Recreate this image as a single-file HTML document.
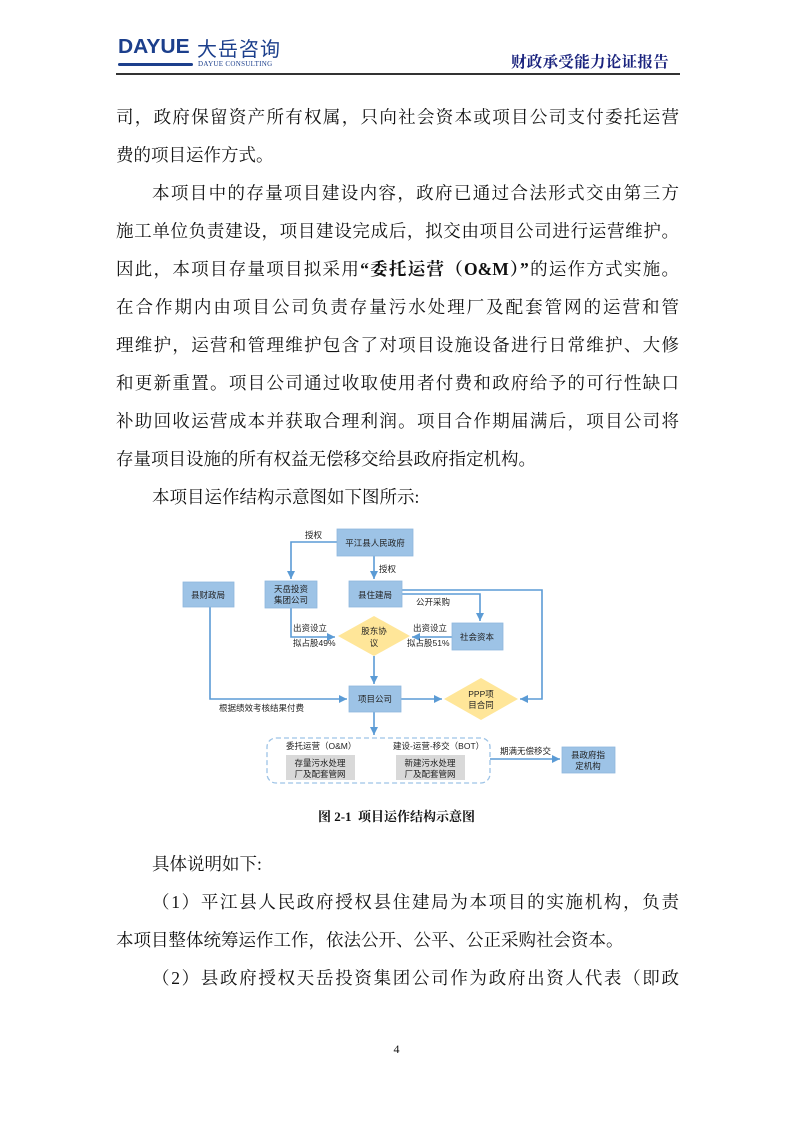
<!DOCTYPE html>
<html><head><meta charset="utf-8"><style>
body{margin:0;background:#fff;}
#p{position:relative;width:793px;height:1122px;overflow:hidden;font-family:"Liberation Serif","Noto Serif CJK SC",serif;color:#111;}
.l{position:absolute;left:116px;width:563px;height:38px;line-height:38px;font-size:17.5px;white-space:nowrap;}
.j{text-align:justify;text-align-last:justify;}
.ind{left:152px;width:527px;}
svg text{font-family:"Liberation Sans","Noto Sans CJK SC",sans-serif;font-size:8.5px;fill:#222;}
</style></head><body><div id="p">
<!-- header -->
<div style="position:absolute;left:118px;top:36px;font-family:'Liberation Sans',sans-serif;font-weight:bold;font-size:20px;color:#1c3f8c;transform:scaleX(1.05);transform-origin:left;">DAYUE</div>
<div style="position:absolute;left:197px;top:33px;font-family:'Noto Sans CJK SC',sans-serif;font-size:20px;color:#1c3f8c;letter-spacing:1px;">大岳咨询</div>
<div style="position:absolute;left:118px;top:63px;width:75px;height:3px;background:#1c3f8c;border-radius:2px;"></div>
<div style="position:absolute;left:198px;top:60px;font-family:'Liberation Serif',serif;font-size:7px;color:#1c3f8c;letter-spacing:0.3px;">DAYUE CONSULTING</div>
<div style="position:absolute;left:511px;top:50px;font-family:'Noto Serif CJK SC',serif;font-size:15.5px;font-weight:bold;color:#1a237e;letter-spacing:0.3px;">财政承受能力论证报告</div>
<div style="position:absolute;left:116px;top:73px;width:564px;height:1.5px;background:#333;"></div>

<div class="l j" style="top:98px">司，政府保留资产所有权属，只向社会资本或项目公司支付委托运营</div>
<div class="l" style="top:136px">费的项目运作方式。</div>
<div class="l j ind" style="top:174px">本项目中的存量项目建设内容，政府已通过合法形式交由第三方</div>
<div class="l j" style="top:212px">施工单位负责建设，项目建设完成后，拟交由项目公司进行运营维护。</div>
<div class="l j" style="top:250px">因此，本项目存量项目拟采用<b>“委托运营（O&amp;M）”</b>的运作方式实施。</div>
<div class="l j" style="top:288px">在合作期内由项目公司负责存量污水处理厂及配套管网的运营和管</div>
<div class="l j" style="top:326px">理维护，运营和管理维护包含了对项目设施设备进行日常维护、大修</div>
<div class="l j" style="top:364px">和更新重置。项目公司通过收取使用者付费和政府给予的可行性缺口</div>
<div class="l j" style="top:402px">补助回收运营成本并获取合理利润。项目合作期届满后，项目公司将</div>
<div class="l" style="top:440px">存量项目设施的所有权益无偿移交给县政府指定机构。</div>
<div class="l ind" style="top:478px">本项目运作结构示意图如下图所示:</div>

<svg style="position:absolute;left:0;top:0" width="793" height="1122">
<defs><marker id="a" markerWidth="6" markerHeight="6" refX="5" refY="3" orient="auto"><path d="M0,0.5 L5,3 L0,5.5 z" fill="#5b9bd5"/></marker></defs>
<g stroke="#5b9bd5" stroke-width="1.6" fill="none">
<polyline points="337,542 291,542 291,579" marker-end="url(#a)"/>
<line x1="374" y1="556" x2="374" y2="579" marker-end="url(#a)"/>
<polyline points="402,590 542,590 542,699 520,699" marker-end="url(#a)"/>
<polyline points="402,594 480,594 480,621" marker-end="url(#a)"/>
<polyline points="291,608 291,637 335,637" marker-end="url(#a)"/>
<line x1="452" y1="637" x2="412" y2="637" marker-end="url(#a)"/>
<line x1="374" y1="656" x2="374" y2="684" marker-end="url(#a)"/>
<polyline points="210,607 210,699 347,699" marker-end="url(#a)"/>
<line x1="401" y1="699" x2="442" y2="699" marker-end="url(#a)"/>
<line x1="374" y1="712" x2="374" y2="735" marker-end="url(#a)"/>
<line x1="490" y1="759" x2="560" y2="759" marker-end="url(#a)"/>
</g>
<rect x="267" y="738" width="223" height="45" rx="9" fill="none" stroke="#9dc3e6" stroke-width="1.3" stroke-dasharray="5,3"/>
<g fill="#9dc3e6" stroke="#8fb8de" stroke-width="0.8">
<rect x="337" y="529" width="76" height="27"/>
<rect x="183" y="582" width="51" height="25"/>
<rect x="265" y="581" width="52" height="27"/>
<rect x="349" y="581" width="53" height="26"/>
<rect x="452" y="623" width="51" height="27"/>
<rect x="349" y="686" width="52" height="26"/>
<rect x="562" y="747" width="53" height="26"/>
</g>
<polygon points="374,616 410,636 374,656 338,636" fill="#ffe699"/>
<polygon points="481,678 518,699 481,720 444,699" fill="#ffe699"/>
<rect x="286" y="755" width="69" height="25" fill="#d9d9d9"/>
<rect x="396" y="755" width="69" height="25" fill="#d9d9d9"/>
<text x="375" y="546" text-anchor="middle" font-size="9">平江县人民政府</text>
<text x="208" y="598" text-anchor="middle">县财政局</text>
<text x="291" y="592" text-anchor="middle">天岳投资</text>
<text x="291" y="603" text-anchor="middle">集团公司</text>
<text x="375" y="598" text-anchor="middle">县住建局</text>
<text x="477" y="640" text-anchor="middle">社会资本</text>
<text x="374" y="634" text-anchor="middle">股东协</text>
<text x="374" y="646" text-anchor="middle">议</text>
<text x="375" y="702" text-anchor="middle">项目公司</text>
<text x="481" y="697" text-anchor="middle">PPP项</text>
<text x="481" y="708" text-anchor="middle">目合同</text>
<text x="588" y="758" text-anchor="middle">县政府指</text>
<text x="588" y="769" text-anchor="middle">定机构</text>
<text x="305" y="538">授权</text>
<text x="379" y="572">授权</text>
<text x="416" y="605">公开采购</text>
<text x="293" y="631">出资设立</text>
<text x="293" y="646">拟占股49%</text>
<text x="413" y="631">出资设立</text>
<text x="407" y="646">拟占股51%</text>
<text x="219" y="711">根据绩效考核结果付费</text>
<text x="286" y="749" font-size="7.5">委托运营（O&amp;M）</text>
<text x="393" y="749" font-size="7.5">建设-运营-移交（BOT）</text>
<text x="320" y="766" text-anchor="middle">存量污水处理</text>
<text x="320" y="777" text-anchor="middle">厂及配套管网</text>
<text x="430" y="766" text-anchor="middle">新建污水处理</text>
<text x="430" y="777" text-anchor="middle">厂及配套管网</text>
<text x="500" y="754">期满无偿移交</text>
</svg>

<div style="position:absolute;left:0;width:793px;top:806px;text-align:center;font-size:13px;font-weight:bold;font-family:'Liberation Serif','Noto Serif CJK SC',serif;">图 2-1&nbsp; 项目运作结构示意图</div>

<div class="l ind" style="top:845px">具体说明如下:</div>
<div class="l j ind" style="top:883px">（1）平江县人民政府授权县住建局为本项目的实施机构，负责</div>
<div class="l" style="top:921px">本项目整体统筹运作工作，依法公开、公平、公正采购社会资本。</div>
<div class="l j ind" style="top:959px">（2）县政府授权天岳投资集团公司作为政府出资人代表（即政</div>
<div style="position:absolute;left:0;width:793px;top:1042px;text-align:center;font-size:12px;">4</div>
</div></body></html>
